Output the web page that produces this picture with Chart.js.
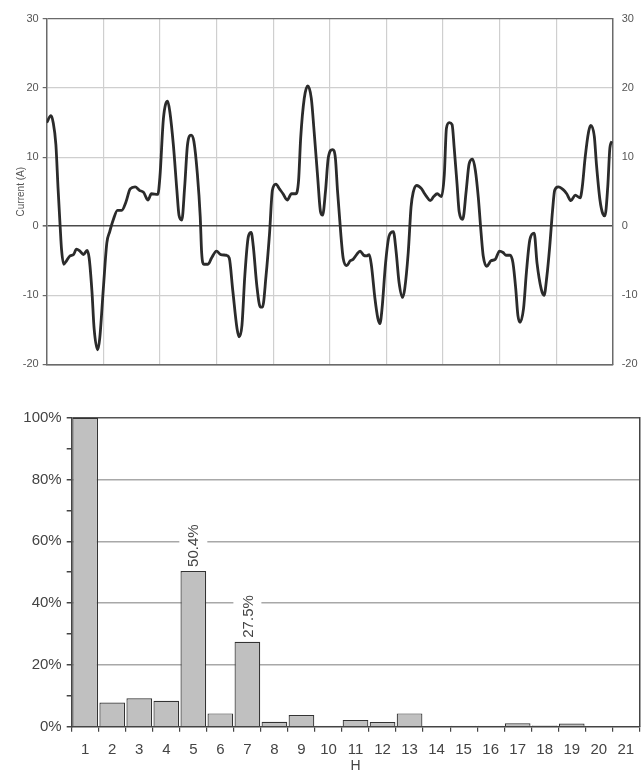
<!DOCTYPE html>
<html>
<head>
<meta charset="utf-8">
<script src="https://cdn.jsdelivr.net/npm/chart.js@4/dist/chart.umd.min.js"></script>
<style>
  html, body { margin: 0; padding: 0; background: #ffffff; }
  #wrap { position: relative; width: 641px; height: 773px; background: #ffffff; }
  #wave { position: absolute; left: 0; top: 0; }
  #spectrum { position: absolute; left: 0; top: 380px; }
</style>
</head>
<body>
<div id="wrap">
  <canvas id="wave" width="641" height="380"></canvas>
  <canvas id="spectrum" width="641" height="393"></canvas>
</div>
<script>
// Current waveform: time (ms) and current (A)
const timeMs = [
  0, 0.6, 0.9, 1.3, 1.6, 1.9, 2.1, 2.4, 2.8, 3.3, 3.8, 4.2, 4.7, 5.2, 5.7, 6.0, 6.4, 6.7, 7.2, 7.5,
  8.0, 8.5, 8.9, 9.4, 10.0, 10.6, 11.2, 11.8, 12.5, 13.1, 13.7, 14.3, 14.8, 15.7, 16.0, 16.5, 17.1, 17.4, 17.9, 18.4,
  18.7, 19.1, 19.5, 19.9, 20.4, 20.8, 21.3, 21.7, 21.9, 22.2, 22.8, 23.3, 24.0, 24.6, 25.4, 25.8, 26.3, 26.9, 27.2, 27.6,
  28.0, 28.5, 28.9, 29.2, 29.7, 30.2, 30.5, 31.0, 31.5, 31.9, 32.4, 32.9, 33.4, 34.0, 34.6, 35.2, 35.6, 35.9, 36.4, 36.9,
  37.4, 37.8, 38.3, 38.7, 39.0, 39.4, 39.8, 40.4, 40.8, 41.1, 41.6, 41.9, 42.4, 42.9, 43.3, 43.8, 44.3, 44.8, 45.2, 45.6,
  45.9, 46.4, 46.8, 47.1, 47.4, 47.9, 48.4, 49.0, 49.4, 49.8, 50.3, 50.6, 51.1, 51.5, 51.8, 52.3, 53.0, 53.3, 53.7, 54.2,
  54.7, 55.2, 55.8, 56.2, 56.5, 56.9, 57.3, 57.6, 58.0, 58.3, 58.8, 59.3, 59.7, 60.2, 60.6, 61.0, 61.4, 61.7, 62.2, 62.8,
  63.4, 64.0, 64.5, 64.9, 65.5, 65.9, 66.3, 66.6, 66.9, 67.4, 67.8, 68.3, 68.9, 69.3, 69.9, 70.3, 70.7, 71.1, 71.5, 71.8,
  72.3, 73.0, 73.5, 74.1, 74.7, 75.4, 75.7, 76.1, 76.6, 76.9, 77.4, 77.7, 78.2, 78.6, 78.9, 79.3, 79.6, 79.9
];
const currentA = [
  15.0, 16.0, 15.1, 11.8, 5.6, 0.0, -3.4, -5.5, -5.0, -4.3, -4.1, -3.3, -3.6, -4.1, -3.5, -4.6, -9.5, -14.8, -17.9, -16.2,
  -9.1, -2.4, -0.8, 0.9, 2.3, 2.3, 3.5, 5.4, 5.7, 5.2, 4.9, 3.8, 4.7, 4.6, 7.1, 15.6, 18.1, 16.6, 11.8, 5.2,
  1.6, 0.9, 5.7, 11.8, 13.2, 12.3, 7.5, 1.4, -3.8, -5.5, -5.5, -4.6, -3.6, -4.1, -4.2, -4.6, -9.3, -14.8, -16.0, -14.3,
  -7.2, -1.5, -0.9, -2.9, -8.6, -11.7, -11.7, -7.2, -1.0, 5.2, 6.1, 5.4, 4.7, 3.8, 4.7, 4.7, 6.6, 12.8, 18.5, 20.3,
  18.5, 13.7, 7.1, 2.1, 1.6, 5.0, 9.9, 11.1, 9.9, 5.2, -1.5, -4.6, -5.7, -5.0, -4.8, -4.1, -3.6, -4.2, -4.3, -4.1,
  -5.7, -10.5, -13.3, -14.1, -11.9, -5.3, -1.4, -0.8, -3.8, -8.1, -10.3, -9.1, -3.8, 2.8, 4.9, 5.9, 5.4, 4.9, 4.3, 3.7,
  4.3, 4.7, 4.3, 7.5, 14.2, 15.0, 14.7, 11.3, 6.1, 2.1, 1.0, 5.2, 9.0, 9.7, 8.0, 4.2, -1.0, -4.3, -5.8, -5.0,
  -4.8, -3.6, -3.8, -4.2, -4.2, -5.3, -9.1, -12.9, -13.9, -11.9, -6.7, -1.9, -1.0, -5.3, -9.1, -10.0, -7.2, -2.9, 2.3, 5.2,
  5.7, 5.3, 4.7, 3.7, 4.5, 4.1, 5.7, 9.9, 13.7, 14.6, 13.0, 9.0, 3.8, 1.8, 1.5, 5.7, 11.3, 12.3
];

// Harmonic spectrum (% of fundamental)
const harmonics = ['1','2','3','4','5','6','7','8','9','10','11','12','13','14','15','16','17','18','19','20','21'];
const harmonicPct = [100, 7.8, 9.2, 8.4, 50.4, 4.3, 27.5, 1.6, 3.8, 0.3, 2.2, 1.5, 4.3, 0, 0.3, 0.3, 1.1, 0.4, 1.0, 0, 0];
const labeledHarmonics = ['5', '7'];

const currentTicks = { min: -20, max: 30, step: 10 };
const timeTicks = { min: 0, max: 80, step: 8 };

const FONT = "'Liberation Sans', Arial, sans-serif";

// ---------- current waveform ----------
const wavePoints = timeMs.map((t, i) => ({ x: t, y: currentA[i] }));

function currentGridColor(ctx) {
  const v = ctx.tick.value;
  if (v === 0) return '#4a4a4a';
  if (v === currentTicks.max || v === currentTicks.min) return '#6a6a6a';
  return '#cfcfcf';
}

new Chart(document.getElementById('wave'), {
  type: 'line',
  data: {
    datasets: [{
      data: wavePoints,
      borderColor: '#2b2b2b',
      borderWidth: 2.8,
      pointRadius: 0,
      cubicInterpolationMode: 'monotone',
      fill: false
    }]
  },
  options: {
    responsive: false,
    animation: false,
    devicePixelRatio: 1,
    layout: { padding: { top: 19, left: 0, right: 0, bottom: 0 } },
    plugins: { legend: { display: false }, tooltip: { enabled: false } },
    scales: {
      x: {
        type: 'linear',
        min: timeTicks.min,
        max: timeTicks.max,
        ticks: { stepSize: timeTicks.step, display: false },
        grid: {
          color: (ctx) => (ctx.tick.value === timeTicks.min || ctx.tick.value === timeTicks.max) ? 'rgba(0,0,0,0)' : '#cfcfcf',
          lineWidth: 1.2,
          drawTicks: false
        },
        border: { color: '#6a6a6a', width: 1.5 },
        afterFit: (s) => { s.height = 10; s.paddingLeft = 0; s.paddingRight = 0; }
      },
      y: {
        position: 'left',
        min: currentTicks.min,
        max: currentTicks.max,
        ticks: { stepSize: currentTicks.step, color: '#555', font: { family: FONT, size: 11 }, padding: 4 },
        grid: { color: currentGridColor, lineWidth: (ctx) => ctx.tick.value === 0 ? 1.6 : 1.2, tickLength: 4, tickColor: '#6a6a6a' },
        border: { color: '#6a6a6a', width: 1.5 },
        title: { display: true, text: 'Current (A)', color: '#555', font: { family: FONT, size: 10 }, padding: { top: 15, bottom: 0 } },
        afterFit: (s) => { s.width = 46.7; }
      },
      y2: {
        position: 'right',
        min: currentTicks.min,
        max: currentTicks.max,
        ticks: { stepSize: currentTicks.step, color: '#555', font: { family: FONT, size: 11 }, padding: 9 },
        grid: { drawOnChartArea: false, drawTicks: false },
        border: { color: '#6a6a6a', width: 1.5 },
        afterFit: (s) => { s.width = 28.3; }
      }
    }
  }
});

// ---------- harmonic spectrum ----------
const barValueLabels = {
  id: 'barValueLabels',
  afterDatasetsDraw(chart) {
    const ctx = chart.ctx;
    const meta = chart.getDatasetMeta(0);
    ctx.save();
    ctx.font = '15px ' + FONT;
    labeledHarmonics.forEach((h) => {
      const i = harmonics.indexOf(h);
      const bar = meta.data[i];
      const text = harmonicPct[i].toFixed(1) + '%';
      const w = ctx.measureText(text).width;
      const base = bar.y - 4;
      ctx.fillStyle = '#ffffff';
      ctx.fillRect(bar.x - 14, base - w - 3, 28, w + 3);
      ctx.save();
      ctx.translate(bar.x + 1, base);
      ctx.rotate(-Math.PI / 2);
      ctx.fillStyle = '#444';
      ctx.textAlign = 'left';
      ctx.textBaseline = 'middle';
      ctx.fillText(text, 0, 0);
      ctx.restore();
    });
    ctx.restore();
  }
};

function pctGridColor(ctx) {
  const v = ctx.tick.value;
  if (v === 100) return '#555';
  if (v === 0 || v % 20 !== 0) return 'rgba(0,0,0,0)';
  return '#a8a8a8';
}

new Chart(document.getElementById('spectrum'), {
  type: 'bar',
  data: {
    labels: harmonics,
    datasets: [{
      data: harmonicPct,
      backgroundColor: '#c0c0c0',
      borderColor: '#333333',
      borderWidth: 1.2,
      barPercentage: 1.0,
      categoryPercentage: 0.95
    }]
  },
  options: {
    responsive: false,
    animation: false,
    devicePixelRatio: 1,
    layout: { padding: { top: 37.7, left: 0, right: 0, bottom: 0 } },
    plugins: { legend: { display: false }, tooltip: { enabled: false } },
    scales: {
      x: {
        ticks: { color: '#444', font: { family: FONT, size: 15 }, padding: 9.3, maxRotation: 0, autoSkip: false },
        grid: { drawOnChartArea: false, tickLength: 5, tickColor: '#444', lineWidth: 1.2 },
        border: { color: '#444', width: 1.5 },
        title: { display: true, text: 'H', color: '#444', font: { family: FONT, size: 14, lineHeight: 1 }, padding: 0 },
        afterFit: (s) => { s.height = 46.3; s.paddingLeft = 0; s.paddingRight = 0; }
      },
      y: {
        min: 0,
        max: 100,
        ticks: {
          stepSize: 10,
          color: '#444',
          font: { family: FONT, size: 15 },
          padding: 5,
          callback: (v) => v % 20 === 0 ? v + '%' : ''
        },
        grid: { color: pctGridColor, lineWidth: 1.5, tickLength: 5, tickColor: '#444' },
        border: { color: '#444', width: 1.5 },
        afterFit: (s) => { s.width = 71.7; }
      },
      y2: {
        position: 'right',
        min: 0,
        max: 100,
        ticks: { display: false },
        grid: { drawOnChartArea: false, drawTicks: false },
        border: { color: '#444', width: 1.5 },
        afterFit: (s) => { s.width = 1.7; }
      }
    }
  },
  plugins: [barValueLabels]
});
</script>
</body>
</html>
